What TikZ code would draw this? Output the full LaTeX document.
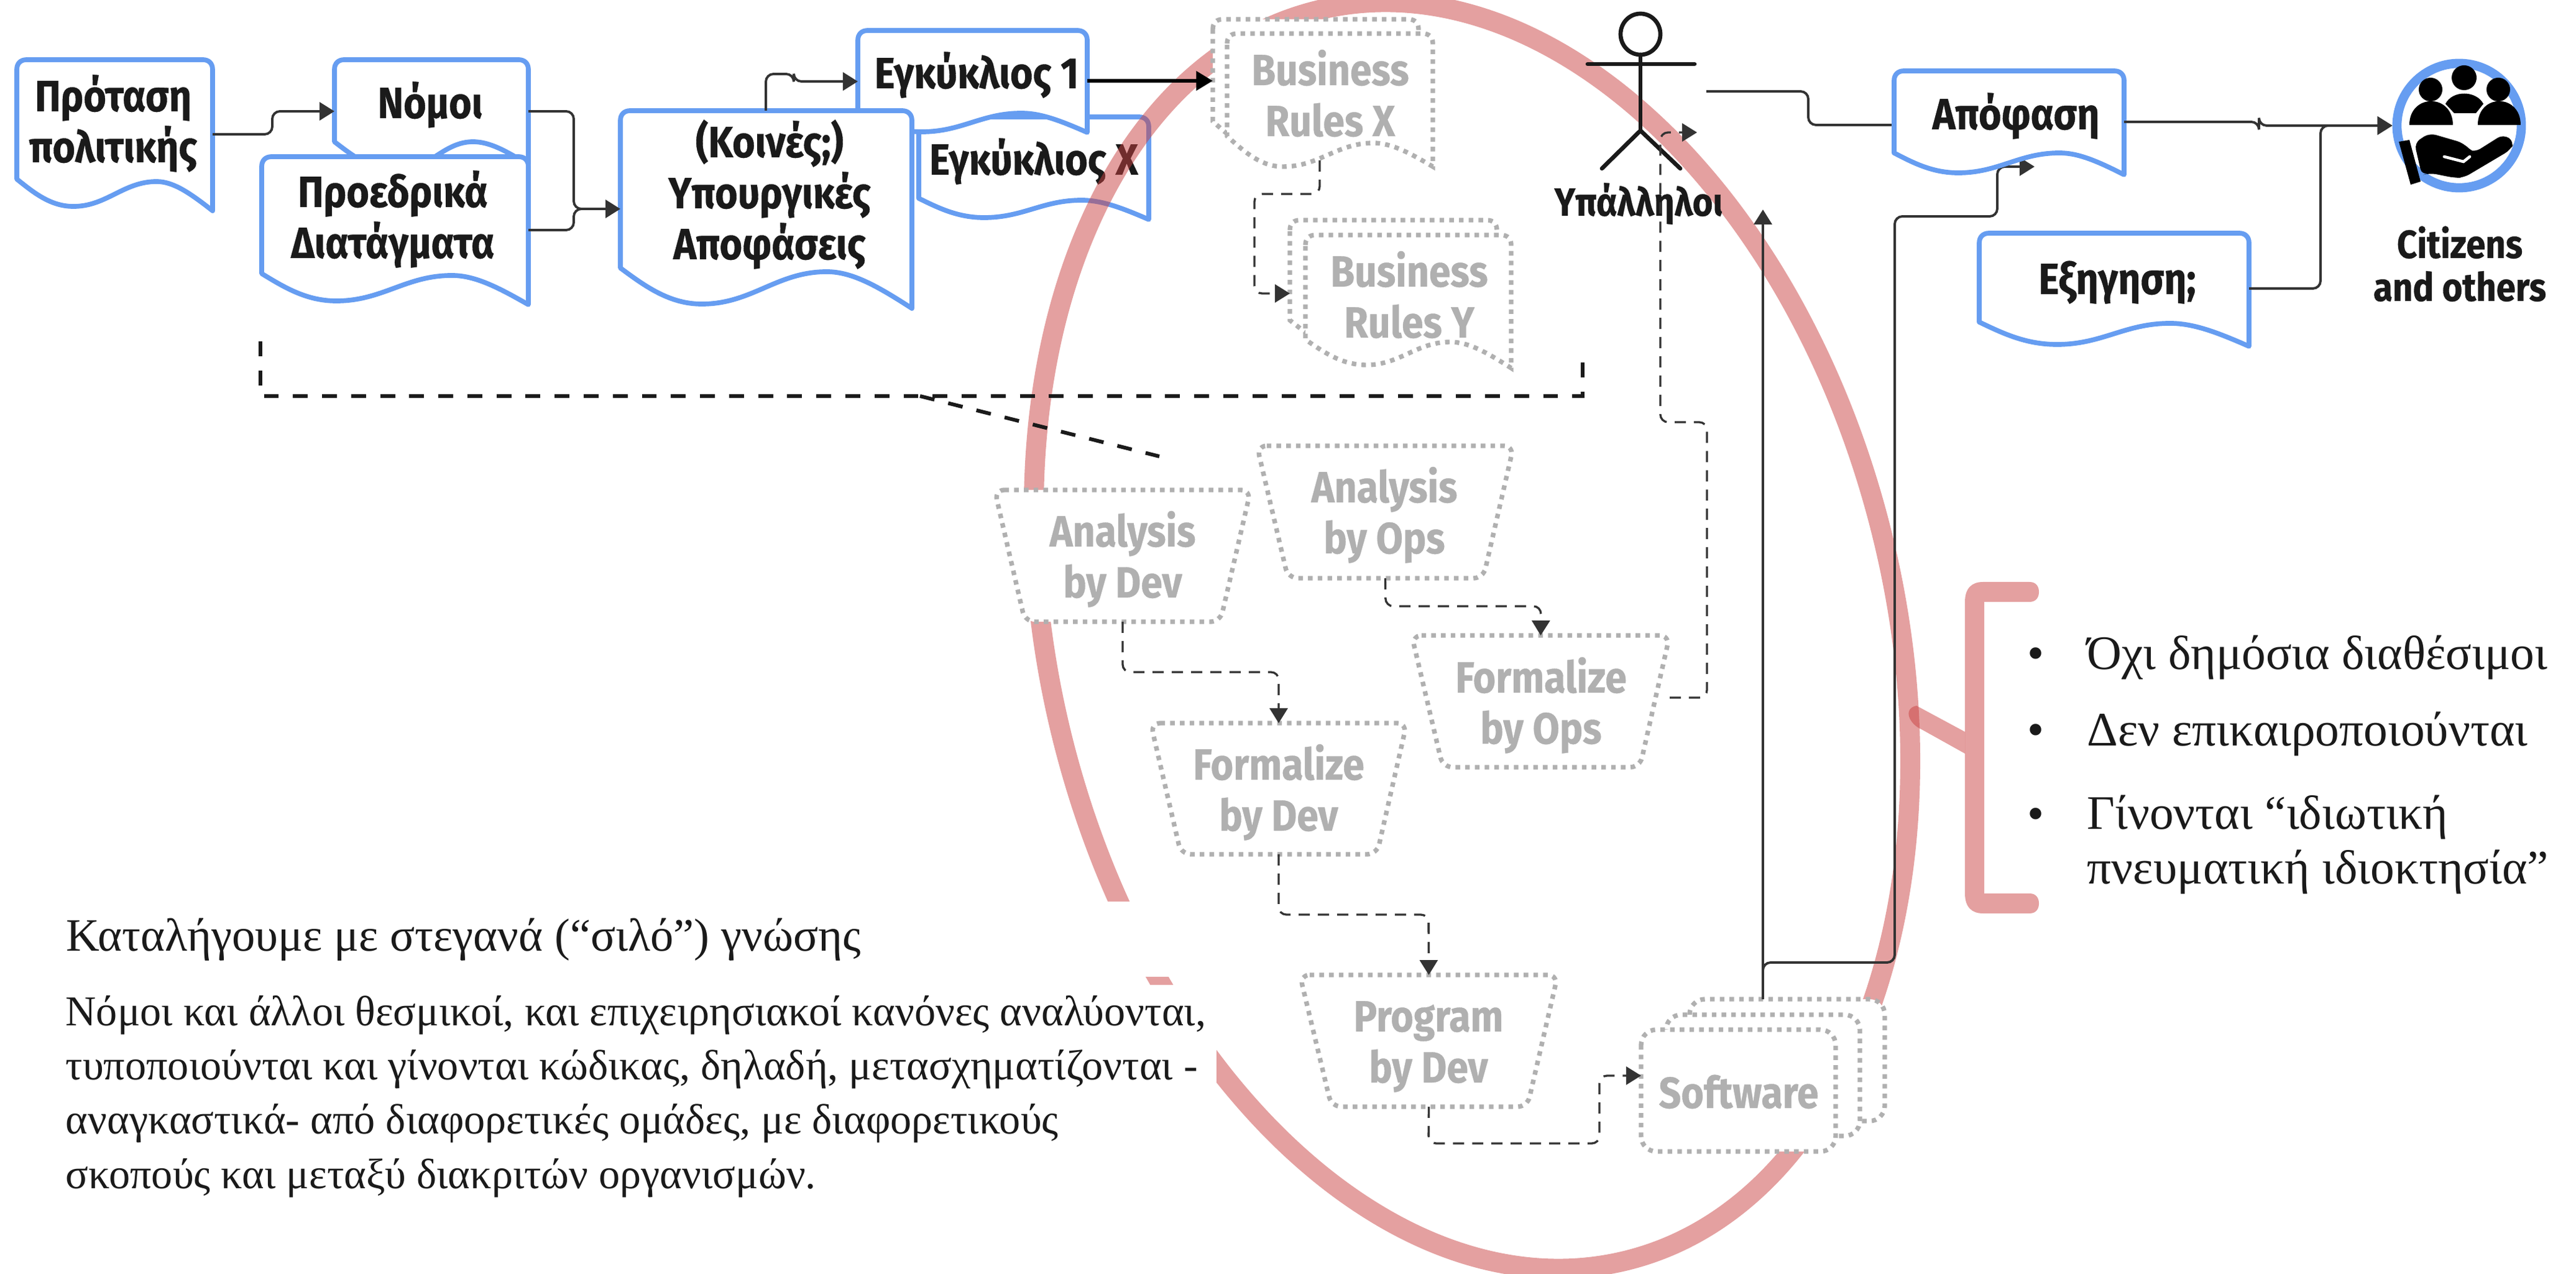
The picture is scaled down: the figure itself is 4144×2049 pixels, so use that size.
\documentclass[tikz,border=0pt]{standalone}
\usepackage{fontspec}
\usetikzlibrary{arrows.meta,fit,calc}
\newfontfamily\bxf{Fira Sans}[FakeStretch=0.89,BoldFeatures={FakeBold=0.5}]
\setmainfont{Liberation Serif}
\definecolor{docblue}{HTML}{669DF1}
\definecolor{ghostg}{HTML}{B0B0B0}
\definecolor{inkd}{HTML}{1A1A1A}
\definecolor{conc}{HTML}{333333}
\definecolor{redr}{HTML}{C94141}
\newcommand\wv[9]{(#1,{#2+16}) .. controls (#1,{#2+6}) and ({#1+6},#2) .. ({#1+16},#2) -- ({#3-16},#2) .. controls ({#3-6},#2) and (#3,{#2+6}) .. (#3,{#2+16}) -- (#3,#9) .. controls ({#3-(#3-#7)*.4},{#9-(#9-#8)*.6}) and ({#7+(#3-#7)*.3},#8) .. (#7,#8) .. controls ({#7-(#7-#5)*.4},#8) and ({#5+(#7-#5)*.4},#6) .. (#5,#6) .. controls ({#5-(#5-#1)*.4},#6) and ({#1+(#5-#1)*.3},{#6-(#6-#4)*.5}) .. (#1,#4) -- cycle}
\newcommand\portbox[5]{\node[hitbox,fit={(#2,#3)(#4,#5)}] (#1) {};}
\newcommand\trap[7]{\draw[ghost,rounded corners=4.5pt] (#2,#4) -- (#3,#4) -- (#6,#7) -- (#5,#7) -- cycle; \portbox{#1}{#2}{#4}{#3}{#7}}
\tikzset{
 hitbox/.style={inner sep=0pt,outer sep=0pt,draw=none},
 docs/.style={draw=docblue,fill=white,line width=2.2pt,line join=round},
 ghost/.style={draw=ghostg,fill=white,line width=2.1pt,dash pattern=on 2.1pt off 2.35pt},
 boxt/.style={font=\bxf\bfseries\fontsize{20}{23.33}\selectfont,align=center,anchor=base,text=inkd,inner sep=0pt},
 ghostt/.style={boxt,text=ghostg},
 smallt/.style={font=\bxf\bfseries\fontsize{18}{19.63}\selectfont,align=center,anchor=base,text=inkd,inner sep=0pt},
 titlet/.style={font=\fontsize{21.2}{24.75}\selectfont,align=left,anchor=base west,text=inkd,inner sep=0pt},
 bodyt/.style={font=\fontsize{19.4}{24.75}\selectfont,align=left,anchor=base west,text=inkd,inner sep=0pt},
 listt/.style={font=\fontsize{22}{24.75}\selectfont,align=left,anchor=base west,text=inkd,inner sep=0pt},
 con/.style={draw=conc,line width=1.1pt,rounded corners=3.5pt,-{Triangle[length=6.8pt,width=8.2pt]}},
 conplain/.style={draw=conc,line width=1.1pt,rounded corners=3.5pt},
 dcon/.style={draw=conc,line width=.95pt,rounded corners=3.5pt,dash pattern=on 5.1pt off 3.7pt,-{Triangle[length=6.8pt,width=8.2pt]}},
 bigd/.style={draw=inkd,line width=1.7pt,dash pattern=on 6.8pt off 6.5pt},
 actorl/.style={draw=inkd,line width=1.9pt,line cap=round},
 redo/.style={fill=redr,fill opacity=.5,draw=none}
}
\begin{document}
\begin{tikzpicture}[x=0.01cm,y=-0.01cm]
\useasboundingbox (0,0) rectangle (4144,2049);
% bottom layer
\draw[docs] \wv{1478}{188}{1848}{319}{1583}{350}{1740}{322}{353};
\portbox{egkx}{1478}{188}{1848}{353}
\node[boxt] (egkxt) at (1663,281) {Εγκύκλιος Χ};
\begin{scope}
\clip (0,0) rectangle (4144,2049);
\draw[redr,draw opacity=.5,line width=9.1pt,rotate around={13.9:(2368,1022)}] (2368,1022) ellipse [x radius=6.79cm,y radius=10.35cm];
\end{scope}
% white panels under the text
\fill[white] (80,1450) rectangle (1900,1571);
\fill[white] (80,1584) rectangle (1957,1960);
% bracket
\fill[redo] (3161,968) .. controls (3161,946) and (3172,936) .. (3190,936) -- (3265,936) .. controls (3276,936) and (3280,944) .. (3280,952) .. controls (3280,960) and (3276,968) .. (3265,968) -- (3192,968) -- (3192,1437) -- (3265,1437) .. controls (3276,1437) and (3280,1445) .. (3280,1453) .. controls (3280,1461) and (3276,1469) .. (3265,1469) -- (3190,1469) .. controls (3172,1469) and (3161,1459) .. (3161,1437) -- cycle;
\fill[redo] (3083,1135) -- (3161,1177) -- (3161,1212) -- (3091,1173) .. controls (3072,1165) and (3060,1140) .. (3083,1135) -- cycle;
% documents, blue
\draw[docs] \wv{538}{96}{850}{228}{640}{275}{761}{228}{265};
\portbox{nom}{538}{96}{850}{265}
\node[boxt] (nomt) at (692,190) {Νόμοι};
\draw[docs] \wv{27}{96}{342}{288}{118}{332}{252}{292}{339};
\portbox{prop}{27}{96}{342}{339}
\node[boxt] (propt) at (182,261) {Πρόταση\\πολιτικής};
\draw[docs] \wv{421}{252}{850}{440}{541}{484}{727}{443}{490};
\portbox{pro}{421}{252}{850}{490}
\node[boxt] (prot) at (632,415) {Προεδρικά\\Διατάγματα};
\draw[docs] \wv{1380}{49}{1749}{185}{1483}{212}{1643}{182}{213};
\portbox{egka}{1380}{49}{1749}{213}
\node[boxt] (egkat) at (1571,142) {Εγκύκλιος 1};
\draw[docs] \wv{998}{178}{1467}{431}{1129}{489}{1330}{437}{496};
\portbox{koi}{998}{178}{1467}{496}
\node[boxt] (koit) at (1238,417) {(Κοινές;)\\Υπουργικές\\Αποφάσεις};
% connectors among the blue documents
\draw[con] (prop.east |- 0,216) -- (438,216) -- (438,179) -- (nom.west |- 0,179);
\draw[conplain] (nom.east |- 0,179) -- (923,179) -- (923,336) -- (960,336);
\draw[con] (pro.east |- 0,370) -- (923,370) -- (923,336) -- (koi.west |- 0,336);
\draw[con] (1232,178) -- (1232,119) -- (1277,119) -- (1277,131) -- (egka.west |- 0,131);
% business rules
\draw[ghost] \wv{1951}{31}{2282}{195}{2041}{244}{2186}{206}{244};
\draw[ghost] \wv{1974}{54}{2305}{219}{2064}{268}{2209}{230}{268};
\portbox{brx}{1951}{31}{2305}{268}
\node[ghostt] (brxt) at (2140,219) {Business\\Rules X};
\draw[ghost] \wv{2075}{354}{2408}{515}{2175}{563}{2310}{526}{568};
\draw[ghost] \wv{2100}{378}{2431}{546}{2198}{587}{2333}{550}{592};
\portbox{bry}{2075}{354}{2431}{592}
\node[ghostt] (bryt) at (2267,543) {Business\\Rules Y};
\draw[draw=black,line width=1.8pt,-{Triangle[length=7.6pt,width=8.6pt]}] (egka.east |- 0,130) -- (brx.west |- 0,130);
\draw[dcon] (2123,258) -- (2123,312) -- (2018,312) -- (2018,472) -- (bry.west |- 0,472);
% dashed brace
\coordinate (bl) at (419,549);
\coordinate (br) at (2546,563);
\coordinate (bm) at (1480,637);
\coordinate (be) at (1865,734);
\draw[bigd] (bl) -- (419,637) -- (2546,637) -- (br);
\draw[bigd] (bm) -- (be);
% trapezoids
\trap{adev}{1600}{2012}{788}{1649}{1963}{1000}
\node[ghostt] (adevt) at (1806,961) {Analysis\\by Dev};
\trap{aops}{2022}{2435}{717}{2072}{2386}{930}
\node[ghostt] (aopst) at (2227,890) {Analysis\\by Ops};
\trap{fops}{2271}{2686}{1022}{2321}{2638}{1234}
\node[ghostt] (fopst) at (2479,1196) {Formalize\\by Ops};
\trap{fdev}{1851}{2263}{1163}{1900}{2215}{1374}
\node[ghostt] (fdevt) at (2057,1336) {Formalize\\by Dev};
\trap{pdev}{2091}{2506}{1568}{2142}{2457}{1780}
\node[ghostt] (pdevt) at (2298,1741) {Program\\by Dev};
% software stack
\draw[ghost,rounded corners=7pt] (2718,1607) rectangle (3032,1803);
\draw[ghost,rounded corners=7pt] (2680,1632) rectangle (2992,1827);
\draw[ghost,rounded corners=7pt] (2640,1656) rectangle (2953,1852);
\portbox{soft}{2640}{1607}{3032}{1852}
\node[ghostt] (softt) at (2797,1782) {Software};
% dashed connectors
\draw[dcon] (adev.south) -- (1806,1081) -- (2057,1081) -- (fdev.north);
\draw[dcon] (aops.south) -- (2229,975) -- (2479,975) -- (fops.north);
\draw[dcon] (fdev.south) -- (2057,1471) -- (2298,1471) -- (pdev.north);
\draw[dcon] (pdev.south) -- (2298,1839) -- (2573,1839) -- (2573,1730) -- (soft.west |- 0,1730);
% people
\draw[actorl] (2639,55) ellipse [x radius=.32cm,y radius=.33cm];
\coordinate (actor) at (2730,213);
\coordinate (actorout) at (2745,147);
\draw[actorl] (2639,88) -- (2639,210);
\draw[actorl] (2554,103) -- (2726,103);
\draw[actorl] (2577,271) -- (2639,210) -- (2703,271);
\node[smallt] (staff) at (2636,347) {Υπάλληλοι};
\draw[dcon] (fops.east |- 0,1122) -- (2746,1122) -- (2746,679) -- (2671,679) -- (2671,213) -- (actor);
% decision side
\draw[conplain] (actorout) -- (2909,147) -- (2909,201) -- (3047,201);
\draw[con] (soft.north -| 2836,0) -- (2836,337);
\draw[con] (2836,1607) -- (2836,1548) -- (3048,1548) -- (3048,348) -- (3213,348) -- (3213,268) -- (3273,268);
\draw[docs] \wv{3047}{114}{3417}{246}{3150}{278}{3313}{246}{281};
\portbox{apo}{3047}{114}{3417}{281}
\node[boxt] (apot) at (3243,208) {Απόφαση};
\draw[docs] \wv{3184}{375}{3618}{518}{3309}{554}{3491}{520}{557};
\portbox{exp}{3184}{375}{3618}{557}
\node[boxt] (expt) at (3406,473) {Εξηγηση;};
% citizens icon
\node[circle,draw=docblue,fill=white,line width=4.2pt,minimum size=2cm,inner sep=0pt] (cit) at (3956,202) {};
\draw[con] (apo.east |- 0,196) -- (3634,196) -- (3634,202) -- (cit.west);
\draw[con] (exp.east |- 0,464) -- (3733,464) -- (3733,202) -- (cit.west);
\fill[black] (3910,144) circle [radius=.19cm] (3964,125) circle [radius=.2cm] (4019,144) circle [radius=.19cm];
\fill[black] (3876,201) .. controls (3876,150) and (3946,150) .. (3946,201) -- cycle;
\fill[black] (3986,201) .. controls (3986,150) and (4055,150) .. (4055,201) -- cycle;
\fill[black] (3934,167) .. controls (3945,145) and (3983,145) .. (3995,167) -- (3983,182) -- (3948,182) -- cycle;
\fill[black] (3859,228) -- (3876,225) -- (3894,292) -- (3878,297) -- cycle;
\fill[black,rounded corners=3pt] (3884,230) -- (3908,214) -- (3963,230) -- (3975,243) -- (3981,245) -- (4027,216) -- (4045,228) -- (4039,241) -- (3963,286) -- (3948,286) -- (3908,278) -- (3896,282) -- cycle;
\draw[white,line width=1.3pt,line cap=round] (3932,252) -- (3963,260) -- (3973,252);
\node[smallt] (citt) at (3957,484) {Citizens\\and others};
% texts
\node[titlet] (title) at (106,1529) {Καταλήγουμε με στεγανά (“σιλό”) γνώσης};
\node[bodyt] (body) at (105,1911) {Νόμοι και άλλοι θεσμικοί, και επιχειρησιακοί κανόνες αναλύονται,\\τυποποιούνται και γίνονται κώδικας, δηλαδή, μετασχηματίζονται -\\αναγκαστικά- από διαφορετικές ομάδες, με διαφορετικούς\\σκοπούς και μεταξύ διακριτών οργανισμών.};
\node[listt] (b1) at (3261,1077) {•};
\node[listt] (b2) at (3261,1199) {•};
\node[listt] (b3) at (3261,1334) {•};
\node[listt] (i1) at (3357,1077) {Όχι δημόσια διαθέσιμοι};
\node[listt] (i2) at (3357,1199) {Δεν επικαιροποιούνται};
\node[listt] (i3) at (3357,1421) {Γίνονται “ιδιωτική\\πνευματική ιδιοκτησία”};
\end{tikzpicture}
\end{document}
